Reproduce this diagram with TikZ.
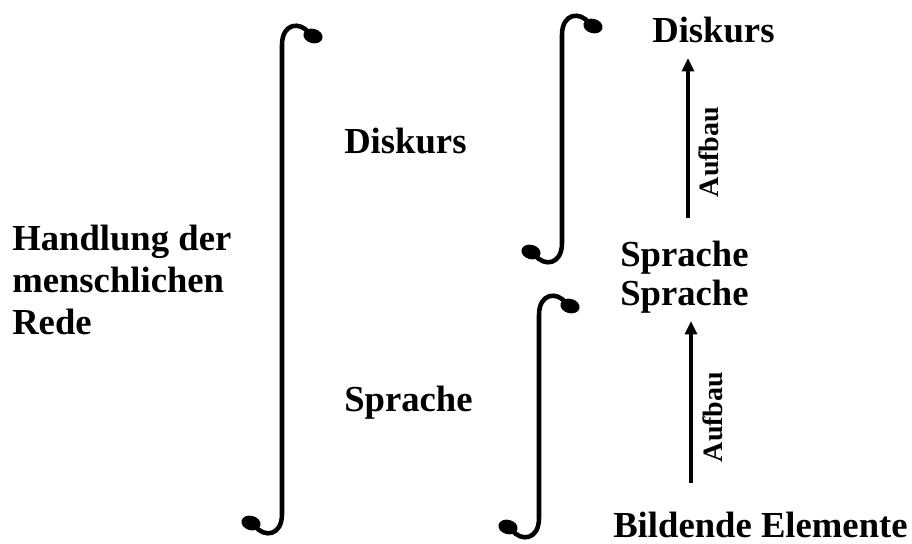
\documentclass[tikz,border=0pt]{standalone}
\usepackage{fontspec}
\setmainfont{Liberation Serif}
\usetikzlibrary{arrows.meta}

% integral-shaped bracket: #1 = x of the stem, #2 = top of upper hook, #3 = bottom of lower hook
\newcommand\hookbar[3]{%
  \draw[hookline] (#1+27,#2+8) .. controls (#1+18,#2-4) and (#1,#2-2) .. (#1,#2+20)
     -- (#1,#3-20) .. controls (#1,#3+2) and (#1-18,#3+4) .. (#1-27,#3-8);
  \fill[rotate around={-15:(#1+31,#2+11)}] (#1+31,#2+11) ellipse [x radius=7.3pt, y radius=5.4pt];
  \fill[rotate around={-15:(#1-31,#3-11)}] (#1-31,#3-11) ellipse [x radius=7.3pt, y radius=5.4pt];
}

\begin{document}
\begin{tikzpicture}[x=0.75pt,y=-0.75pt,
  word/.style={inner sep=0pt, anchor=base west, font=\fontsize{27.5}{31.5}\selectfont\bfseries},
  tag/.style={inner sep=0pt, rotate=90, font=\fontsize{21}{24}\selectfont\bfseries},
  hookline/.style={line width=3.4pt, line cap=round},
  buildarrow/.style={line width=2.3pt, -{Triangle[length=10pt,width=9pt]}}]
\useasboundingbox (0,0) rectangle (912,543);

% left column (base anchor sits on the last line)
\node[word, align=left] (rede) at (12,334) {Handlung der\\menschlichen\\Rede};

% middle column
\node[word] (disk1) at (344,153) {Diskurs};
\node[word] (spr0) at (344,411) {Sprache};

% right column
\node[word] (disk2) at (652,42) {Diskurs};
\node[word] (spr1) at (620,266) {Sprache};
\node[word] (spr2) at (620,305) {Sprache};
\node[word] (elem) at (613,537) {Bildende Elemente};

% brackets
\hookbar{282}{25}{534}
\hookbar{562}{15}{263}
\hookbar{539}{295}{538}

% build-up arrows
\coordinate (a1from) at (688,218);
\coordinate (a1to) at (688,58);
\coordinate (a2from) at (691,483);
\coordinate (a2to) at (691,321);
\draw[buildarrow] (a1from) -- (a1to);
\draw[buildarrow] (a2from) -- (a2to);
\node[tag] (auf1) at (709,152) {Aufbau};
\node[tag] (auf2) at (713,417) {Aufbau};
\end{tikzpicture}
\end{document}
